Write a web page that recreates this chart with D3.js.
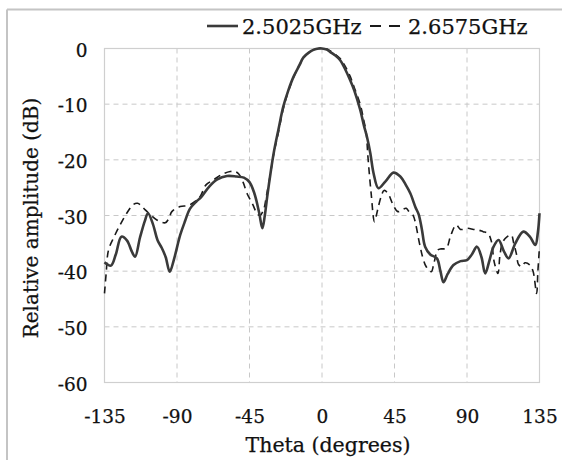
<!DOCTYPE html>
<html>
<head>
<meta charset="utf-8">
<script src="https://cdn.jsdelivr.net/npm/d3@7"></script>
<style>
  html, body { margin: 0; padding: 0; background: #ffffff; }
  svg { display: block; }
  text { font-family: "DejaVu Serif", serif; fill: #111; stroke: #111; stroke-width: 0.25px; }
</style>
</head>
<body>
<svg id="chart" width="562" height="460"></svg>
<script>
// ---- data ----
const seriesNames = ["2.5025GHz", "2.6575GHz"];
const xTicks = [-135, -90, -45, 0, 45, 90, 135];
const yTicks = [0, -10, -20, -30, -40, -50, -60];
const xTitle = "Theta (degrees)";
const yTitle = "Relative amplitude (dB)";

const thetaA = [-135,-131,-128,-124.5,-121,-118,-116,-113,-110,-108,-105,-102,-99.5,-97,-94.5,-92,-88,-85,-82,-78,-75,-70,-65,-59,-53,-48.5,-45,-42,-39,-37,-35.5,-34,-32,-30,-27,-24,-21,-17.7,-14,-11.5,-8,-5.3,-2,0,3,5,8,11.3,14,17.5,20,23.7,26,28,30,32,35,39.3,44.4,48.6,52,54.8,58,60,62,64,67.2,71.3,73.5,75.4,78,81.6,86,90,93,96.2,99,101.3,104,106.5,109.6,113,115.8,120,125,129,132.4,134,135];
const dbA = [-38.4,-39.0,-37,-33.8,-34.5,-36.5,-37.4,-34,-31,-29.6,-31.5,-34.5,-35.8,-37.5,-40.1,-38,-33.5,-31,-28.8,-27.5,-26.7,-24.8,-23.5,-22.9,-23,-23.2,-24,-26,-29.5,-32.3,-30,-26.6,-22.5,-18.8,-14.5,-10.4,-7.6,-5.1,-3,-1.6,-0.7,-0.25,0,0,-0.2,-0.6,-1.2,-2.1,-3.5,-5.7,-7.5,-11,-13.8,-16,-18.8,-22.4,-25.1,-23.9,-22.3,-23,-24.5,-26,-28.5,-29.8,-32.5,-35.6,-37,-37.7,-40,-42,-40.5,-38.9,-38.2,-38,-37,-35.6,-37.5,-40.4,-38,-35.6,-34.4,-36.5,-37.7,-35,-32.9,-33.8,-35.3,-33,-29.6];

const thetaB = [-135,-134,-132.5,-129,-125,-121,-117,-114.5,-112,-109.7,-106,-102.5,-97.3,-95,-93.2,-88,-83,-79,-75.6,-72,-67.3,-62,-57,-54,-51.8,-49,-46.6,-43,-40.4,-38.5,-36.3,-34.5,-32,-30,-27,-24,-21,-17.7,-14,-11.5,-8,-5,-2,0,3,5,8,11.3,14,17.5,20,23.7,26,27.4,28.5,30.5,32.6,34.5,36.7,38.5,40.9,44,47.1,50,52.3,54,56.4,60.5,62.5,64.7,67.8,69.5,71.9,74,77.1,80,83.3,86,90.6,94,96.8,100,103,105,107,109.2,110.5,112.3,115,117.5,119,120.6,122,123.9,126,129,131,133.2,134,135];
const dbB = [-44,-40.5,-36.2,-33.8,-31.5,-29.5,-28,-27.8,-28.3,-29,-30,-30.8,-31.3,-30.5,-29.3,-28.4,-28.2,-27.5,-26.6,-24.5,-23.6,-22.6,-22.1,-22.1,-22.5,-24,-26,-28,-29.6,-30,-29,-26.5,-22.5,-19,-15,-10.8,-7.8,-5.2,-3,-1.7,-0.7,-0.2,0,0,-0.1,-0.4,-1,-1.8,-3,-5,-7,-10,-13,-15,-19.4,-26,-31.1,-29,-26.6,-25.5,-26,-28,-29.3,-28.9,-28.7,-29.3,-29.9,-35,-37.5,-39.2,-40.1,-38.5,-36.2,-36,-35.9,-33.5,-31.7,-32.5,-32.3,-32.5,-32.6,-32.9,-33.2,-34.5,-38.5,-40.4,-37,-34.7,-33.8,-33.5,-35,-36.8,-38.8,-39.2,-38.5,-38.9,-40,-44,-40,-35.6];

// ---- layout ----
const svg = d3.select("#chart");
const mLeft = 104.5, mRight = 539.5, mTop = 48.5, mBottom = 382.5;
const serif = "'DejaVu Serif', serif";

// outer frame (only top and left visible)
svg.append("line").attr("x1", 7).attr("y1", 9.5).attr("x2", 562).attr("y2", 9.5)
  .attr("stroke", "#c4c4c4").attr("stroke-width", 2);
svg.append("line").attr("x1", 7).attr("y1", 9.5).attr("x2", 7).attr("y2", 460)
  .attr("stroke", "#c4c4c4").attr("stroke-width", 2);

const x = d3.scaleLinear().domain([-135, 135]).range([mLeft, mRight]);
const y = d3.scaleLinear().domain([-60, 0]).range([mBottom, mTop]);

// grid
const g = svg.append("g");
g.selectAll(".vg").data(xTicks.slice(1, -1)).join("line")
  .attr("x1", d => x(d)).attr("x2", d => x(d)).attr("y1", mTop).attr("y2", mBottom)
  .attr("stroke", "#c8c8c8").attr("stroke-width", 1).attr("stroke-dasharray", "5,4");
g.selectAll(".hg").data(yTicks.slice(1, -1)).join("line")
  .attr("x1", mLeft).attr("x2", mRight).attr("y1", d => y(d)).attr("y2", d => y(d))
  .attr("stroke", "#c8c8c8").attr("stroke-width", 1).attr("stroke-dasharray", "5,4");
g.append("rect").attr("x", mLeft).attr("y", mTop).attr("width", mRight - mLeft).attr("height", mBottom - mTop)
  .attr("fill", "none").attr("stroke", "#cfcfcf").attr("stroke-width", 1.2);

// axes (labels only)
const xAxis = d3.axisBottom(x).tickValues(xTicks).tickSize(0).tickPadding(0)
  .tickFormat(d => String(d).replace("\u2212", "-"));
const xa = svg.append("g").attr("transform", `translate(0,${mBottom})`).call(xAxis);
xa.select(".domain").remove();
xa.selectAll("text").attr("font-family", serif).attr("font-size", 18.5)
  .attr("fill", "#111").attr("y", 40).attr("dy", 0);

const yAxis = d3.axisLeft(y).tickValues(yTicks).tickSize(0).tickPadding(0)
  .tickFormat(d => String(d).replace("\u2212", "-"));
const ya = svg.append("g").attr("transform", `translate(${mLeft},0)`).call(yAxis);
ya.select(".domain").remove();
ya.selectAll("text").attr("font-family", serif).attr("font-size", 18.5)
  .attr("fill", "#111").attr("x", -17).attr("dy", "0.42em");

// titles
svg.append("text").attr("x", 328).attr("y", 452).attr("text-anchor", "middle")
  .attr("font-family", serif).attr("font-size", 20.5).text(xTitle);
svg.append("text").attr("transform", "translate(38,218) rotate(-90)").attr("text-anchor", "middle")
  .attr("font-family", serif).attr("font-size", 20).text(yTitle);

// lines
const line = d3.line().x(d => x(d[0])).y(d => y(d[1])).curve(d3.curveCatmullRom.alpha(0.5));
const dataA = thetaA.map((t, i) => [t, dbA[i]]);
const dataB = thetaB.map((t, i) => [t, dbB[i]]);

svg.append("path").datum(dataB).attr("d", line).attr("fill", "none")
  .attr("stroke", "#1a1a1a").attr("stroke-width", 1.6).attr("stroke-dasharray", "7,5");
svg.append("path").datum(dataA).attr("d", line).attr("fill", "none")
  .attr("stroke", "#3a3a3a").attr("stroke-width", 2.6);

// legend
const lg = svg.append("g");
lg.append("line").attr("x1", 207).attr("x2", 238).attr("y1", 26).attr("y2", 26)
  .attr("stroke", "#3a3a3a").attr("stroke-width", 2.6);
lg.append("text").attr("x", 242).attr("y", 34).attr("font-family", serif).attr("font-size", 21).text(seriesNames[0]);
lg.append("line").attr("x1", 370).attr("x2", 405).attr("y1", 26).attr("y2", 26)
  .attr("stroke", "#1a1a1a").attr("stroke-width", 1.8).attr("stroke-dasharray", "11,8");
lg.append("text").attr("x", 408).attr("y", 34).attr("font-family", serif).attr("font-size", 21).text(seriesNames[1]);
</script>
</body>
</html>
